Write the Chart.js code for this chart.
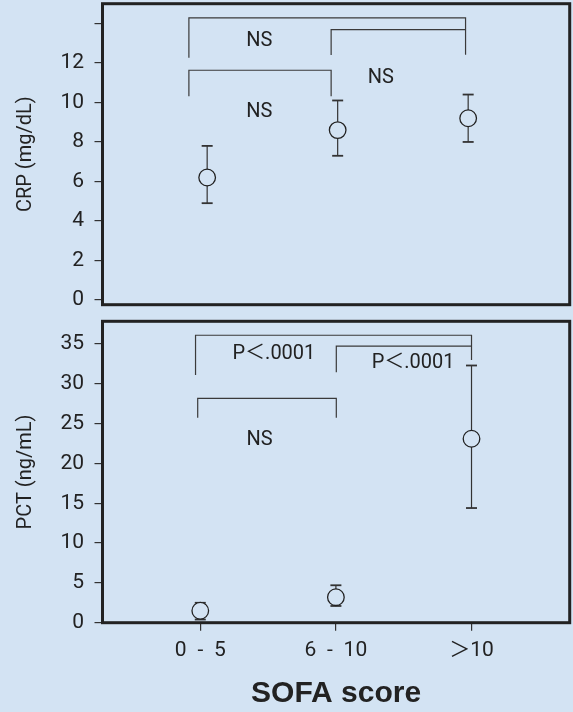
<!DOCTYPE html>
<html>
<head>
<meta charset="utf-8">
<script src="https://cdn.jsdelivr.net/npm/chart.js@4.4.1/dist/chart.umd.min.js"></script>
<style>
    html, body { margin: 0; padding: 0; background: #d3e3f3; }
    #wrap { position: relative; width: 573px; height: 712px; overflow: hidden; }
    .panel { position: absolute; left: 0; width: 573px; }
    #top { top: 0; height: 312px; }
    #bottom { top: 312px; height: 400px; }
</style>
</head>
<body>
<div id="wrap">
    <div class="panel" id="top"><canvas id="crpChart"></canvas></div>
    <div class="panel" id="bottom"><canvas id="pctChart"></canvas></div>
</div>
<script>
const categories = ['0\u2002-\u20025', '6\u2002-\u200210', '\uFF1E10'];

const crpMean = [6.2, 8.6, 9.2];
const crpLow = [4.9, 7.3, 8.0];
const crpHigh = [7.8, 10.1, 10.4];

const pctMean = [1.5, 3.2, 23.1];
const pctLow = [0.4, 2.1, 14.4];
const pctHigh = [2.5, 4.7, 32.3];

const crpTickLabels = [0, 2, 4, 6, 8, 10, 12];
const crpMinorTicks = [0, 1, 2, 3, 4, 5, 6, 7, 8, 9, 10, 11, 12, 13, 14];
const pctTickLabels = [0, 5, 10, 15, 20, 25, 30, 35];

// brackets: [from, to, level, left leg end, right leg end]
const crpBrackets = [
    [0.86, 2.98, 14.28, 12.26, 12.42],
    [1.95, 2.98, 13.69, 12.40, 13.69],
    [0.86, 1.95, 11.63, 10.32, 10.32],
];
const crpNotes = [
    ['NS', 1.40, 13.12],
    ['NS', 2.33, 11.24],
    ['NS', 1.40, 9.51],
];
const pctBrackets = [
    [0.965, 3.0, 36.1, 31.1, 33.0],
    [2.003, 3.0, 34.72, 31.45, 34.72],
    [0.981, 2.003, 28.18, 25.75, 25.75],
];
const pctNotes = [
    ['P\uFF1C.0001', 1.543, 33.69],
    ['P\uFF1C.0001', 2.569, 32.64],
    ['NS', 1.437, 22.95],
];

const BG = '#d3e3f3';
const INK = '#222222';
const FONT = 'Roboto, "Noto Sans CJK JP", sans-serif';

function line(ctx, x1, y1, x2, y2) {
    ctx.beginPath();
    ctx.moveTo(x1, y1);
    ctx.lineTo(x2, y2);
    ctx.stroke();
}

const errorBars = {
    id: 'errorBars',
    beforeDatasetsDraw(chart, args, opts) {
        const { ctx, scales: { x, y } } = chart;
        ctx.save();
        ctx.strokeStyle = '#333';
        opts.low.forEach((lo, i) => {
            const px = x.getPixelForValue(i + 1);
            const top = y.getPixelForValue(opts.high[i]);
            const bot = y.getPixelForValue(lo);
            ctx.lineWidth = 1.2;
            line(ctx, px, top, px, bot);
            ctx.lineWidth = 1.8;
            line(ctx, px - 5.5, top, px + 5.5, top);
            line(ctx, px - 5.5, bot, px + 5.5, bot);
        });
        ctx.restore();
    },
};

const annotations = {
    id: 'annotations',
    afterDatasetsDraw(chart, args, opts) {
        const { ctx, scales: { x, y } } = chart;
        ctx.save();
        ctx.strokeStyle = '#3a3a3a';
        ctx.lineWidth = 1.2;
        opts.brackets.forEach(([from, to, level, leftEnd, rightEnd]) => {
            const x1 = x.getPixelForValue(from);
            const x2 = x.getPixelForValue(to);
            const yl = y.getPixelForValue(level);
            ctx.beginPath();
            ctx.moveTo(x1, y.getPixelForValue(leftEnd));
            ctx.lineTo(x1, yl);
            ctx.lineTo(x2, yl);
            ctx.lineTo(x2, y.getPixelForValue(rightEnd));
            ctx.stroke();
        });
        ctx.fillStyle = INK;
        ctx.font = '20px ' + FONT;
        ctx.textAlign = 'center';
        ctx.textBaseline = 'middle';
        opts.notes.forEach(([text, vx, vy]) => {
            ctx.fillText(text, x.getPixelForValue(vx), y.getPixelForValue(vy));
        });
        ctx.restore();
    },
    afterDraw(chart) {
        const { ctx, chartArea: a } = chart;
        ctx.save();
        ctx.strokeStyle = INK;
        ctx.lineWidth = 3;
        ctx.strokeRect(a.left, a.top, a.right - a.left, a.bottom - a.top);
        ctx.restore();
    },
};

function noPadding(scale) {
    scale.paddingTop = 0;
    scale.paddingBottom = 0;
    scale.paddingLeft = 0;
    scale.paddingRight = 0;
}

function yAxis(title, min, max, tickValues, labelValues) {
    return {
        type: 'linear',
        min: min,
        max: max,
        afterFit: (scale) => {
            scale.width = 102.5;
            noPadding(scale);
        },
        afterBuildTicks: (scale) => { scale.ticks = tickValues.map((v) => ({ value: v })); },
        border: { display: false },
        grid: {
            drawOnChartArea: false,
            drawTicks: true,
            tickLength: 8,
            color: '#333',
            lineWidth: 1.2,
        },
        ticks: {
            padding: 10.5,
            color: INK,
            font: { family: FONT, size: 21 },
            callback: (v) => (labelValues.includes(v) ? String(v) : ''),
        },
        title: {
            display: true,
            text: title,
            color: INK,
            font: { family: FONT, size: 20, lineHeight: 1.2 },
            padding: { top: 14, bottom: 0 },
        },
    };
}

function points(means) {
    return means.map((v, i) => ({ x: i + 1, y: v }));
}

function dataset(means) {
    return {
        data: points(means),
        pointRadius: 8.3,
        pointHoverRadius: 8.3,
        pointBorderWidth: 1.3,
        pointBorderColor: INK,
        pointBackgroundColor: BG,
        showLine: false,
    };
}

new Chart(document.getElementById('crpChart'), {
    type: 'scatter',
    data: { datasets: [dataset(crpMean)] },
    options: {
        responsive: true,
        maintainAspectRatio: false,
        animation: false,
        layout: { autoPadding: false, padding: { left: 0, right: 3.3, top: 3.7, bottom: 7.3 } },
        plugins: {
            legend: { display: false },
            tooltip: { enabled: false },
            errorBars: { low: crpLow, high: crpHigh },
            annotations: { brackets: crpBrackets, notes: crpNotes },
        },
        scales: {
            x: { type: 'linear', min: 0.198, max: 3.778, display: false },
            y: yAxis('CRP (mg/dL)', -0.24, 15, crpMinorTicks, crpTickLabels),
        },
    },
    plugins: [errorBars, annotations],
});

new Chart(document.getElementById('pctChart'), {
    type: 'scatter',
    data: { datasets: [dataset(pctMean)] },
    options: {
        responsive: true,
        maintainAspectRatio: false,
        animation: false,
        layout: { autoPadding: false, padding: { left: 0, right: 3.3, top: 9.3, bottom: 0 } },
        plugins: {
            legend: { display: false },
            tooltip: { enabled: false },
            errorBars: { low: pctLow, high: pctHigh },
            annotations: { brackets: pctBrackets, notes: pctNotes },
        },
        scales: {
            x: {
                type: 'linear',
                min: 0.279,
                max: 3.724,
                afterFit: (scale) => {
                    scale.height = 89.3;
                    noPadding(scale);
                },
                afterBuildTicks: (scale) => {
                    scale.ticks = categories.map((c, i) => ({ value: i + 1 }));
                },
                border: { display: false },
                grid: {
                    drawOnChartArea: false,
                    drawTicks: true,
                    tickLength: 8,
                    color: '#333',
                    lineWidth: 1.2,
                },
                ticks: {
                    padding: 7.6,
                    maxRotation: 0,
                    color: INK,
                    font: { family: FONT, size: 21 },
                    callback: (v) => categories[v - 1],
                },
                title: {
                    display: true,
                    text: 'SOFA score',
                    color: INK,
                    font: { family: '"Liberation Sans", Arial, sans-serif', size: 30, weight: 'bold', lineHeight: 1 },
                    padding: { top: 0, bottom: 3.5 },
                },
            },
            y: yAxis('PCT (ng/mL)', 0, 37.85, pctTickLabels, pctTickLabels),
        },
    },
    plugins: [errorBars, annotations],
});
</script>
</body>
</html>
